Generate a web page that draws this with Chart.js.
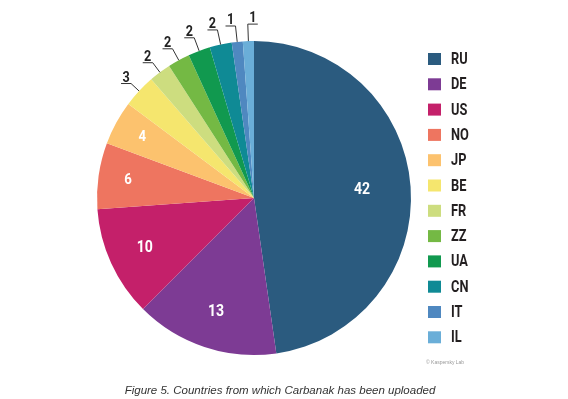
<!DOCTYPE html>
<html>
<head>
<meta charset="utf-8">
<script src="https://cdn.jsdelivr.net/npm/chart.js@4"></script>
<style>
  html, body { margin: 0; padding: 0; background: #fff; }
  .wrap { position: relative; width: 568px; height: 399px; overflow: hidden; }
  canvas { position: absolute; left: 0; top: 0; }
  .caption {
    position: absolute; left: 0; width: 560px; top: 384px;
    text-align: center; font: italic 11.5px "Liberation Sans", Arial, sans-serif; color: #333;
  }
  .credit {
    position: absolute; left: 426px; top: 359px;
    font: 5px "Liberation Sans", Arial, sans-serif; color: #999;
  }
</style>
</head>
<body>
<div class="wrap">
  <canvas id="pie" width="568" height="399"></canvas>
  <div class="credit">© Kaspersky Lab</div>
  <div class="caption">Figure 5. Countries from which Carbanak has been uploaded</div>
</div>
<script>
const countries = ["RU", "DE", "US", "NO", "JP", "BE", "FR", "ZZ", "UA", "CN", "IT", "IL"];
const uploads = [42, 13, 10, 6, 4, 3, 2, 2, 2, 2, 1, 1];
const sliceColors = [
  "#2b5b7f", "#7d3b94", "#c4206a", "#ee7560", "#fcc26e", "#f5e66e",
  "#cddd7f", "#74b944", "#11994f", "#0f8a95", "#4f88c0", "#6aaed8"
];

// no condensed face installed, so squeeze a bold one horizontally
function narrowText(ctx, text, x, y, squeeze) {
  ctx.save();
  ctx.translate(x, y);
  ctx.scale(squeeze, 1);
  ctx.fillText(text, 0, 0);
  ctx.restore();
}

// values + leader lines drawn on top of the arcs
const sliceLabels = {
  id: "sliceLabels",
  afterDatasetsDraw(chart) {
    const ctx = chart.ctx;
    const arcs = chart.getDatasetMeta(0).data;
    let outside = 0;
    ctx.save();
    arcs.forEach((arc, i) => {
      const { x, y, startAngle, endAngle, outerRadius } = arc.getProps(
        ["x", "y", "startAngle", "endAngle", "outerRadius"], true);
      const mid = (startAngle + endAngle) / 2;
      const cos = Math.cos(mid), sin = Math.sin(mid);
      const v = uploads[i];
      if (v >= 4) {
        const f = v >= 20 ? 0.69 : (v >= 10 ? 0.765 : 0.81);
        ctx.fillStyle = "#fff";
        ctx.font = "bold " + (v >= 10 ? 16 : 15) + "px Roboto, sans-serif";
        ctx.textAlign = "center";
        ctx.textBaseline = "middle";
        narrowText(ctx, String(v), x + cos * outerRadius * f, y + sin * outerRadius * f, 0.88);
      } else {
        const ext = 11 + outside;
        outside++;
        const ax = x + cos * outerRadius, ay = y + sin * outerRadius;
        const ex = x + cos * (outerRadius + ext), ey = y + sin * (outerRadius + ext);
        const flip = i === arcs.length - 1;
        const ux = flip ? ex + 10 : ex - 10;
        ctx.strokeStyle = "#333";
        ctx.lineWidth = 1;
        ctx.beginPath();
        ctx.moveTo(ax, ay);
        ctx.lineTo(ex, ey);
        ctx.lineTo(ux, ey);
        ctx.stroke();
        ctx.fillStyle = "#222";
        ctx.font = "bold 14px Roboto, sans-serif";
        ctx.textAlign = "center";
        ctx.textBaseline = "alphabetic";
        narrowText(ctx, String(v), (ex + ux) / 2, ey - 2, 0.9);
      }
    });
    ctx.restore();
  }
};

// column legend on the right
const sideLegend = {
  id: "sideLegend",
  afterDraw(chart) {
    const ctx = chart.ctx;
    ctx.save();
    countries.forEach((name, i) => {
      const cy = 59 + i * 25.3;
      ctx.fillStyle = sliceColors[i];
      ctx.fillRect(428, cy - 6, 13, 12);
      ctx.fillStyle = "#231f20";
      ctx.font = "bold 16px Roboto, sans-serif";
      ctx.textAlign = "left";
      ctx.textBaseline = "middle";
      narrowText(ctx, name, 451, cy + 1, 0.8);
    });
    ctx.restore();
  }
};

new Chart(document.getElementById("pie"), {
  type: "pie",
  data: {
    labels: countries,
    datasets: [{
      data: uploads,
      backgroundColor: sliceColors,
      borderWidth: 0
    }]
  },
  options: {
    responsive: false,
    animation: false,
    layout: { padding: { left: 97, top: 41, right: 157, bottom: 44 } },
    plugins: {
      legend: { display: false },
      tooltip: { enabled: false }
    }
  },
  plugins: [sliceLabels, sideLegend]
});
</script>
</body>
</html>
